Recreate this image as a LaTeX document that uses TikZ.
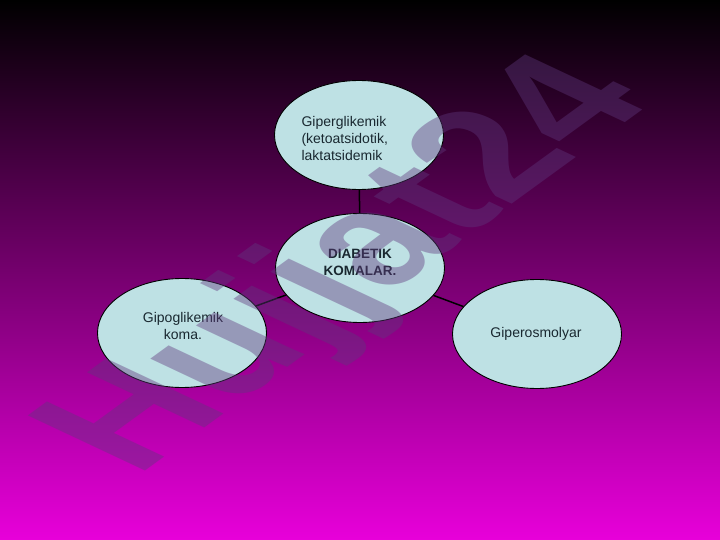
\documentclass[tikz,border=0pt]{standalone}
\usepackage{fontspec}
\setmainfont{Liberation Sans}
\usetikzlibrary{shapes.geometric,backgrounds}
\definecolor{bubble}{RGB}{190,225,228}
\definecolor{bubbletext}{RGB}{25,40,48}
\definecolor{slide}{RGB}{232,0,218}
\definecolor{stamp}{RGB}{95,55,125}

\begin{document}
\begin{tikzpicture}[x=1pt,y=-1pt,
    koma/.style={ellipse,draw=black,line width=0.9pt,fill=bubble,minimum width=169pt,minimum height=109pt,inner sep=0pt,text=bubbletext,font=\fontsize{14}{17}\selectfont},
    link/.style={draw=black,line width=1.5pt},
    stamp/.style={text=stamp,opacity=0.42,font=\fontsize{165}{165}\selectfont\bfseries}]
        \useasboundingbox (0,0) rectangle (720,540);
        % markaz va shoxlar
        \node[koma] (markaz) at (360,268) {};
        \node[koma] (giper) at (359,135) {};
        \node[koma] (gipo) at (182,333) {};
        \node[koma] (osmo) at (537,334) {};
        \begin{scope}[on background layer]
            \shade[top color=black,bottom color=slide] (0,0) rectangle (720,540);
            \draw[link] (markaz) -- (giper);
            \draw[link] (markaz) -- (gipo);
            \draw[link] (markaz) -- (osmo);
        \end{scope}
        \node[align=center,text=bubbletext,font=\fontsize{13.5}{17}\selectfont\bfseries] (markazmatn) at (360,262) {DIABETIK\\KOMALAR.};
        \node[align=left,text=bubbletext,font=\fontsize{14}{17}\selectfont,anchor=west] (gipermatn) at (298,138) {Giperglikemik\\(ketoatsidotik,\\laktatsidemik};
        \node[align=center,text=bubbletext,font=\fontsize{14}{17}\selectfont] (gipomatn) at (183,326) {Gipoglikemik\\koma.};
        \node[text=bubbletext,font=\fontsize{14}{17}\selectfont] (osmomatn) at (536,334) {Giperosmolyar};
        % suv belgisi
        \node[stamp,rotate=36,xslant=-0.55] (belgi) at (352,268) {Hujjat24};
    \end{tikzpicture}
\end{document}
